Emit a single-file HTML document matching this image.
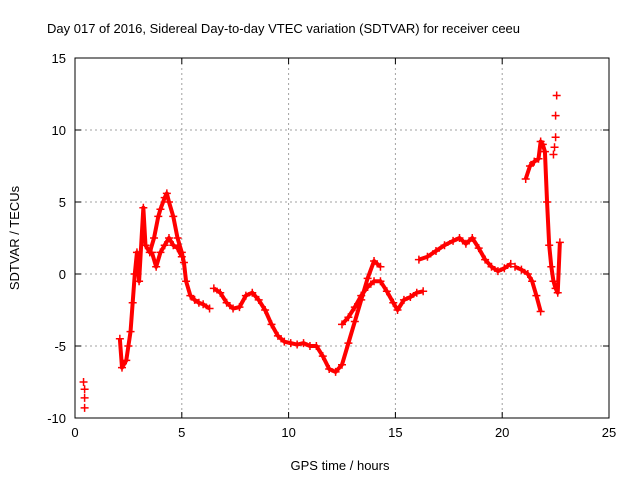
<!DOCTYPE html>
<html><head><meta charset="utf-8"><style>
body{margin:0;background:#fff;width:640px;height:480px;overflow:hidden}
svg text{font-family:"Liberation Sans",sans-serif;font-size:13px;fill:#000}
</style></head><body>
<svg id="chart" width="640" height="480" xmlns="http://www.w3.org/2000/svg">
<text x="47" y="33">Day 017 of 2016, Sidereal Day-to-day VTEC variation (SDTVAR) for receiver ceeu</text>
<text x="340" y="470" text-anchor="middle">GPS time / hours</text>
<text transform="translate(19,238) rotate(-90)" text-anchor="middle">SDTVAR / TECUs</text>
<g id="grid"></g><g id="axes"></g><g id="marks"></g>
</svg>
<script>
const xTicks=[0,5,10,15,20,25];
const yTicks=[15,10,5,0,-5,-10];
const tA=[0.4,0.45,0.45,0.45];
const vA=[-7.5,-8,-8.6,-9.3];
const tB=[2.1,2.2,2.4,2.5,2.6,2.7,2.8,2.9,3.0,3.2,3.3,3.5,3.7,3.9,4.0,4.2,4.3,4.4,4.6,4.8,5.0,5.1,5.2,5.4,5.6,5.8,6.0,6.3];
const vB=[-4.5,-6.5,-6,-5,-4,-2,0,1.5,-0.5,4.6,2,1.5,2.5,4,4.5,5.3,5.6,5,4,2.5,1.5,0.8,-0.5,-1.5,-1.8,-2,-2.1,-2.4];
const tB2=[3.6,3.8,4.0,4.2,4.4,4.6,4.8,5.0];
const vB2=[1.5,0.5,1.5,2,2.5,2,1.8,1.2];
const tC=[6.5,6.8,7.1,7.4,7.7,8.0,8.3,8.6,8.9,9.2,9.5,9.8,10.1,10.4,10.7,11.0,11.3,11.6,11.9,12.2,12.5,12.8,13.1,13.4,13.7,14.0,14.3];
const vC=[-1,-1.3,-2,-2.4,-2.3,-1.5,-1.3,-1.8,-2.5,-3.5,-4.3,-4.7,-4.8,-4.9,-4.8,-5,-5,-5.7,-6.6,-6.8,-6.3,-4.8,-3.3,-1.8,-0.3,0.9,0.5];
const tD=[12.5,12.8,13.1,13.4,13.7,14.0,14.3,14.6,14.9,15.1,15.4,15.7,16.0,16.3];
const vD=[-3.5,-3,-2.3,-1.5,-0.9,-0.5,-0.5,-1.2,-2,-2.5,-1.8,-1.6,-1.3,-1.2];
const tE=[16.1,16.5,16.9,17.3,17.7,18.0,18.3,18.6,18.9,19.2,19.5,19.8,20.1,20.4];
const vE=[1,1.2,1.6,2,2.3,2.5,2.1,2.5,1.8,1,0.5,0.2,0.4,0.7];
const tF=[20.6,20.9,21.2,21.4,21.6,21.8];
const vF=[0.5,0.3,0,-0.5,-1.5,-2.6];
const tG=[21.1,21.3,21.5,21.7,21.8,21.9,22.0,22.1,22.2,22.3,22.4,22.5,22.6,22.7];
const vG=[6.6,7.5,7.8,8,9.2,9,8.5,5,2,0.5,-0.5,-1,-1.3,2.2];
const tH=[22.4,22.45,22.5,22.5,22.55];
const vH=[8.3,8.8,9.5,11,12.4];

const X0=75,X1=609,Y0=418,Y1=58;
const xS=t=>X0+(t-0)/25*(X1-X0);
const yS=v=>Y0-(v+10)/25*(Y0-Y1);
const NS='http://www.w3.org/2000/svg';
function mk(tag,parent,attrs){const e=document.createElementNS(NS,tag);for(const k in attrs)e.setAttribute(k,attrs[k]);parent.appendChild(e);return e;}
const grid=document.getElementById('grid'),axes=document.getElementById('axes'),marks=document.getElementById('marks');
xTicks.forEach(t=>{
 const x=xS(t);
 if(t>0&&t<25){const g=mk('line',grid,{x1:x,x2:x,y1:Y1,y2:Y0,stroke:'#a0a0a0','stroke-dasharray':'2,3'});
 
 }
 mk('line',axes,{x1:x,x2:x,y1:Y0,y2:Y0-6,stroke:'#000'});
 mk('line',axes,{x1:x,x2:x,y1:Y1,y2:Y1+6,stroke:'#000'});
 const l=mk('text',axes,{x:x,y:Y0+19,'text-anchor':'middle'});l.textContent=t;
 
 
});
yTicks.forEach(v=>{
 const y=yS(v);
 if(v>-10&&v<15){const g=mk('line',grid,{x1:X0,x2:X1,y1:y,y2:y,stroke:'#a0a0a0','stroke-dasharray':'2,3'});
 
 }
 mk('line',axes,{x1:X0,x2:X0+6,y1:y,y2:y,stroke:'#000'});
 mk('line',axes,{x1:X1,x2:X1-6,y1:y,y2:y,stroke:'#000'});
 const l=mk('text',axes,{x:X0-9,y:y+5,'text-anchor':'end'});l.textContent=v;
 
 
});
const fr=mk('rect',axes,{x:X0,y:Y1,width:X1-X0,height:Y0-Y1,fill:'none',stroke:'#000'});


const segs=[[tA,vA,false],[tB,vB,true],[tB2,vB2,true],[tC,vC,true],[tD,vD,true],[tE,vE,true],[tF,vF,true],[tG,vG,true],[tH,vH,false]];
segs.forEach(([ts,vs,line])=>{
 if(line){const p=mk('polyline',marks,{points:ts.map((t,i)=>xS(t)+','+yS(vs[i])).join(' '),fill:'none',stroke:'#f00','stroke-width':4,'stroke-linejoin':'round'});
 
 }
 ts.forEach((t,i)=>{const x=xS(t),y=yS(vs[i]);
  const m=mk('path',marks,{d:`M${x-4},${y}h8M${x},${y-4}v8`,stroke:'#f00','stroke-width':1.5});
  
  
 });
});
</script>
</body></html>
